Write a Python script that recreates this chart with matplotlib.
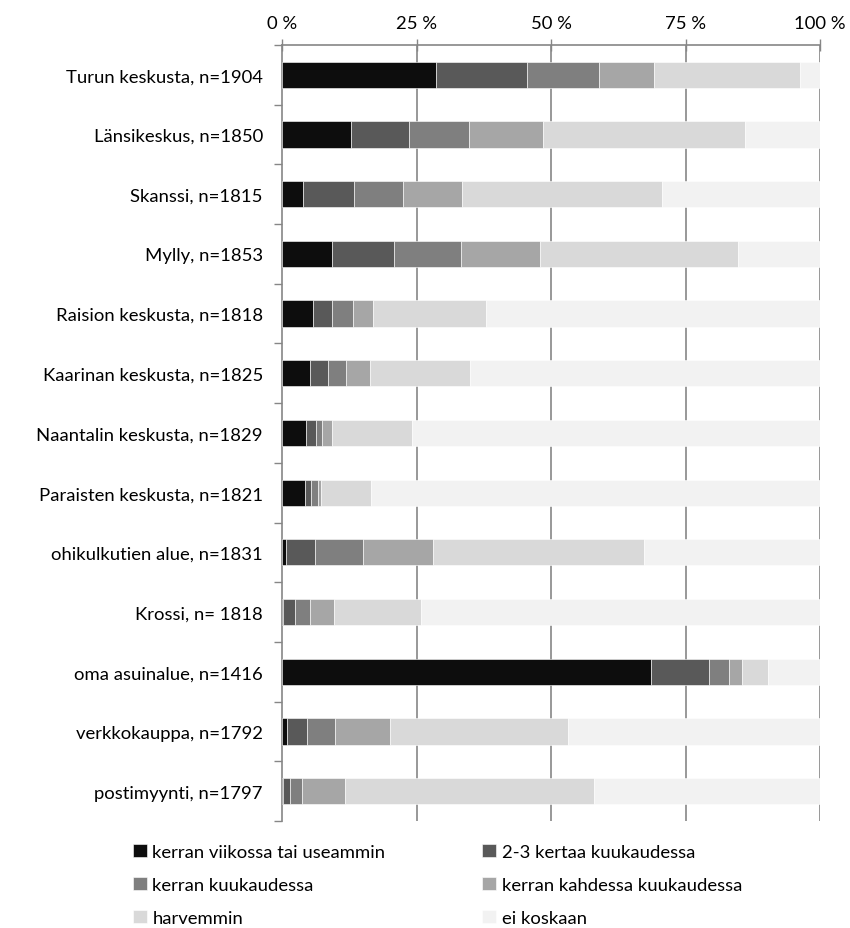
import numpy as np
import matplotlib.pyplot as plt
from matplotlib.ticker import FixedLocator

plt.rcParams['font.family'] = ['Lato', 'DejaVu Sans']

areas = ["Turun keskusta, n=1904", "Länsikeskus, n=1850", "Skanssi, n=1815",
         "Mylly, n=1853", "Raision keskusta, n=1818", "Kaarinan keskusta, n=1825",
         "Naantalin keskusta, n=1829", "Paraisten keskusta, n=1821",
         "ohikulkutien alue, n=1831", "Krossi, n= 1818", "oma asuinalue, n=1416",
         "verkkokauppa, n=1792", "postimyynti, n=1797"]

answers = ["kerran viikossa tai useammin", "2-3 kertaa kuukaudessa",
           "kerran kuukaudessa", "kerran kahdessa kuukaudessa",
           "harvemmin", "ei koskaan"]

# percentages per area, one list per answer
weekly     = [28.6, 12.8, 3.8, 9.2, 5.8, 5.1, 4.4, 4.2, 0.7, 0.2, 68.6, 0.8, 0.1]
per_2_3    = [16.9, 10.7, 9.5, 11.6, 3.4, 3.5, 1.9, 1.2, 5.4, 2.2, 10.7, 3.8, 1.4]
monthly    = [13.3, 11.2, 9.1, 12.4, 3.9, 3.3, 1.1, 1.2, 9.0, 2.8, 3.8, 5.2, 2.2]
bimonthly  = [10.3, 13.8, 11.0, 14.7, 3.7, 4.4, 1.9, 0.7, 12.9, 4.4, 2.4, 10.3, 7.9]
rarely     = [27.1, 37.6, 37.1, 36.8, 21.0, 18.6, 14.9, 9.2, 39.2, 16.2, 4.7, 33.0, 46.3]
never      = [3.8, 13.9, 29.5, 15.3, 62.2, 65.1, 75.8, 83.5, 32.8, 74.2, 9.8, 46.9, 42.1]

series = [weekly, per_2_3, monthly, bimonthly, rarely, never]
colors = ["#0d0d0d", "#595959", "#7f7f7f", "#a6a6a6", "#d9d9d9", "#f2f2f2"]

fig = plt.figure(figsize=(8.5, 9.29), dpi=100)
ax = fig.add_axes([0.332, 0.1152, 0.633, 0.8353])

y = np.arange(len(areas))
left = np.zeros(len(areas))
handles = []
for vals, col, lab in zip(series, colors, answers):
    v = np.array(vals)
    h = ax.barh(y, v, left=left, height=0.44, color=col, label=lab,
                edgecolor="white", linewidth=0.4, zorder=3)
    handles.append(h)
    left += v

ax.set_xlim(0, 100)
ax.set_ylim(len(areas) - 0.5, -0.5)

grid_c = "#868686"
ax.xaxis.tick_top()
ax.set_xticks([0, 25, 50, 75, 100])
ax.set_xticklabels(["0 %", "25 %", "50 %", "75 %", "100 %"])
ax.tick_params(axis="x", direction="inout", length=8, color=grid_c, width=1,
               labelsize=13.3, pad=6, labelcolor="black")
for xv in [25, 50, 75, 100]:
    ax.axvline(xv, color=grid_c, lw=1.2, zorder=1)

ax.set_yticks(y)
ax.set_yticklabels(areas)
ax.tick_params(axis="y", which="major", length=0, labelsize=13.3, pad=14)
ax.yaxis.set_minor_locator(FixedLocator(np.arange(-0.5, len(areas), 1.0)))
ax.tick_params(axis="y", which="minor", length=6, color=grid_c, width=1)

for s in ["right", "bottom"]:
    ax.spines[s].set_visible(False)
for s in ["top", "left"]:
    ax.spines[s].set_color(grid_c)
    ax.spines[s].set_linewidth(1.2)

# legend ordered row by row in two columns
order = [0, 2, 4, 1, 3, 5]
fig.legend([handles[i] for i in order], [answers[i] for i in order],
           ncol=2, loc="lower left", bbox_to_anchor=(0.137, -0.0155),
           frameon=False, fontsize=13.3, handlelength=0.75, handleheight=0.75,
           handletextpad=0.3, columnspacing=5.25, labelspacing=0.9)

fig.savefig("out.png", dpi=100)
